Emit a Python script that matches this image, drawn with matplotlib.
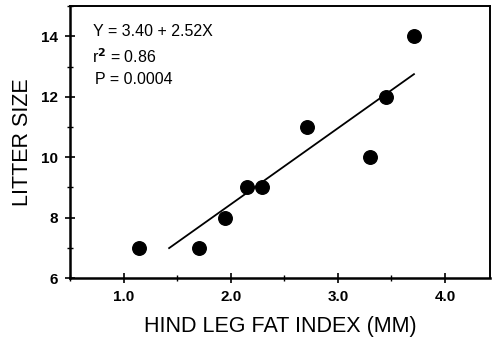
import numpy as np
import matplotlib
matplotlib.use("Agg")
import matplotlib.pyplot as plt
from matplotlib.ticker import MultipleLocator

# data
fat_index = [1.14, 1.70, 1.95, 2.15, 2.29, 2.71, 3.30, 3.45, 3.71]
litter_size = [7, 7, 8, 9, 9, 11, 10, 12, 14]

intercept = 3.40
slope = 2.52
fit_x = [1.425, 3.71]

x_ticks = [1.0, 2.0, 3.0, 4.0]
y_ticks = [6, 8, 10, 12, 14]

plt.rcParams['font.family'] = ['Liberation Sans', 'DejaVu Sans']

fig = plt.figure(figsize=(4.95, 3.42), dpi=100)
ax = fig.add_axes([0.1414, 0.187, 0.8486, 0.795])

fit_y = [intercept + slope * v for v in fit_x]
ax.plot(fit_x, fit_y, color='black', lw=1.3)
ax.scatter(fat_index, litter_size, s=95, color='black', zorder=3)

ax.set_xlim(0.5, 4.42)
ax.set_ylim(6, 15)
ax.set_xticks(x_ticks)
ax.set_xticklabels([f'{v:.1f}' for v in x_ticks], fontweight='bold', fontsize=11)
ax.set_yticks(y_ticks)
ax.set_yticklabels([str(v) for v in y_ticks], fontweight='bold', fontsize=11)
ax.xaxis.set_minor_locator(MultipleLocator(0.5))
ax.yaxis.set_minor_locator(MultipleLocator(1))
ax.tick_params(which='major', direction='inout', length=7, width=1.2, pad=5)
ax.tick_params(which='minor', direction='inout', length=4, width=1.0)
ax.tick_params(axis='x', which='both', top=False)
ax.tick_params(axis='y', which='both', right=False)

for side in ['left', 'bottom']:
    ax.spines[side].set_linewidth(1.8)
for side in ['top', 'right']:
    ax.spines[side].set_linewidth(1.4)

ax.set_xlabel('HIND LEG FAT INDEX (MM)', fontsize=15.5, labelpad=9)
ax.set_ylabel('LITTER SIZE', fontsize=15.5, labelpad=6)

ax.text(0.055, 0.908, 'Y = 3.40 + 2.52X', transform=ax.transAxes, fontsize=11.5, va='center')
ax.text(0.052, 0.816, r'r$^{\mathbf{2}}$ = 0.86', transform=ax.transAxes, fontsize=11.5, va='center')
ax.text(0.06, 0.73, 'P = 0.0004', transform=ax.transAxes, fontsize=11.5, va='center')

fig.savefig('out.png', dpi=100)
